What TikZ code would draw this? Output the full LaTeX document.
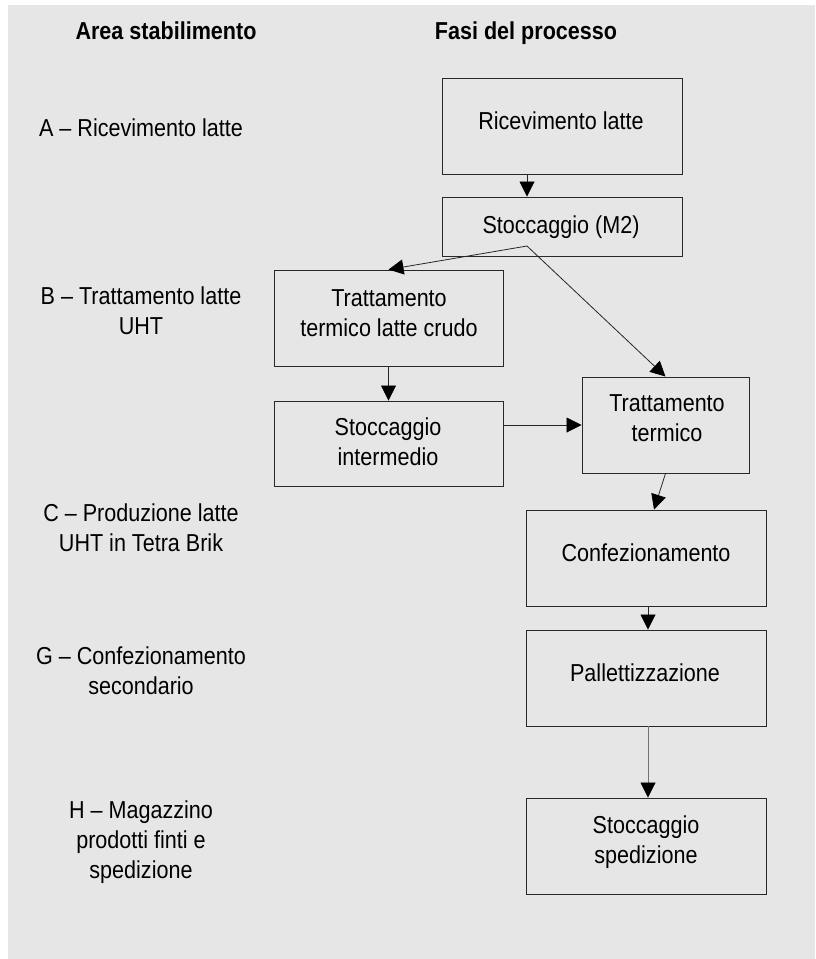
\documentclass[tikz,border=0pt]{standalone}
\usepackage{fontspec}
\setmainfont{Liberation Sans}[FakeStretch=0.88]
\usetikzlibrary{arrows.meta,calc}
\definecolor{bggray}{RGB}{230,230,230}
\definecolor{boxline}{RGB}{40,40,40}
\begin{document}
\begin{tikzpicture}[x=1pt,y=-1pt,
  box/.style={draw=boxline, line width=0.9pt, inner sep=0pt},
  txt/.style={anchor=base, align=center, inner sep=0pt, font=\fontsize{24.5}{30}\selectfont},
  ttl/.style={anchor=base, align=center, inner sep=0pt, font=\fontsize{24.5}{30}\selectfont\bfseries},
  arr/.style={draw=black!85, line width=0.8pt, -{Triangle[width=15pt,length=15pt,color=black]}},
  arrg/.style={draw=black!55, line width=0.8pt, -{Triangle[width=15pt,length=15pt,color=black]}}]
\useasboundingbox (0,0) rectangle (815,959);
\fill[white] (0,0) rectangle (815,959);
\fill[bggray] (8,5) rectangle (815,959);
% titles
\node[ttl] (t1) at (166,39) {Area stabilimento};
\node[ttl] (t2) at (526,39) {Fasi del processo};
% left labels (anchor base = baseline of last line)
\node[txt] (la) at (141,136) {A – Ricevimento latte};
\node[txt] (lb) at (141,334) {B – Trattamento latte\\UHT};
\node[txt] (lc) at (141,551) {C – Produzione latte\\UHT in Tetra Brik};
\node[txt] (lg) at (141,694) {G – Confezionamento\\secondario};
\node[txt] (lh) at (141,878) {H – Magazzino\\prodotti finti e\\spedizione};
% boxes
\node[box, minimum width=240pt, minimum height=96pt] (rec) at (562,126) {};
\node[box, minimum width=240pt, minimum height=59pt] (m2) at (562,226.5) {};
\node[box, minimum width=229pt, minimum height=96pt] (crudo) at (388.5,318) {};
\node[box, minimum width=229pt, minimum height=85pt] (inter) at (388.5,443.5) {};
\node[box, minimum width=167pt, minimum height=96pt] (tt) at (665.5,425) {};
\node[box, minimum width=240pt, minimum height=96pt] (conf) at (646,558) {};
\node[box, minimum width=240pt, minimum height=96pt] (pall) at (646,678) {};
\node[box, minimum width=240pt, minimum height=96pt] (sped) at (646,846) {};
% box texts
\node[txt] (trec) at (561,129) {Ricevimento latte};
\node[txt] (tm2) at (561,233) {Stoccaggio (M2)};
\node[txt] (tcrudo) at (389,336) {Trattamento\\termico latte crudo};
\node[txt] (tinter) at (388,465) {Stoccaggio\\intermedio};
\node[txt] (ttt) at (667,441) {Trattamento\\termico};
\node[txt] (tconf) at (646,561) {Confezionamento};
\node[txt] (tpall) at (645,681) {Pallettizzazione};
\node[txt] (tsped) at (646,863) {Stoccaggio\\spedizione};
% connectors
\coordinate (split) at (527,246);
\draw[arr] (split |- rec.south) -- (split |- m2.north);
\draw[arr] (split) -- (crudo.north);
\draw[arr] (split) -- (tt.north);
\draw[arr] (crudo.south) -- (inter.north);
\draw[arr] (inter.east |- tt.west) -- (tt.west);
\draw[arr] (tt.south) -- ($(conf.north)+(8,0)$);
\draw[arr] ($(conf.south)+(2,0)$) -- ($(pall.north)+(2,0)$);
\draw[arrg] ($(pall.south)+(2,0)$) -- ($(sped.north)+(2,0)$);
\end{tikzpicture}
\end{document}
